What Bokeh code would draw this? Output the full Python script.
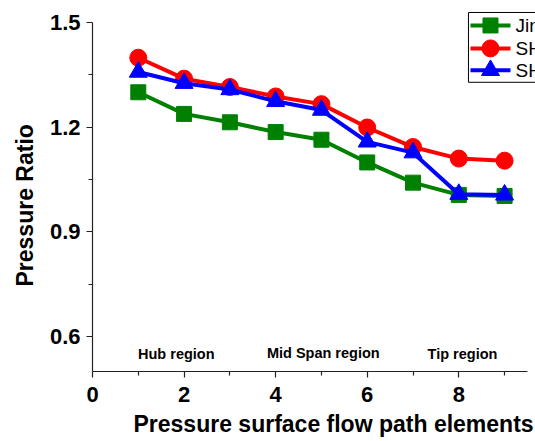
from bokeh.plotting import figure
from bokeh.models import FixedTicker, Range1d, Label, Title
from bokeh.core.properties import value
from bokeh.embed import file_html
from bokeh.resources import INLINE

# Flow path element index along the pressure surface
elements = [1, 2, 3, 4, 5, 6, 7, 8, 9]

# Pressure ratio per element for each case
jin_ratio = [1.300, 1.238, 1.214, 1.186, 1.164, 1.099, 1.041, 1.006, 1.003]
sh_a_ratio = [1.399, 1.339, 1.315, 1.288, 1.266, 1.199, 1.143, 1.110, 1.104]
sh_b_ratio = [1.358, 1.326, 1.308, 1.274, 1.249, 1.158, 1.127, 1.008, 1.006]

series_names = ["Jin et al.", "SHS-1", "SHS-2"]

x_major = [0, 2, 4, 6, 8]
x_minor = [1, 3, 5, 7, 9]
y_major = [0.6, 0.9, 1.2, 1.5]
y_minor = [0.75, 1.05, 1.35]

# Span regions annotated along the bottom of the plot
region_names = ["Hub region", "Mid Span region", "Tip region"]
region_x = [1.83, 5.04, 8.08]
region_y = [0.549, 0.554, 0.551]

FONT = "Liberation Sans"

# The frame runs to the right/top edges so the legend box can spill past
# the axes; the axes themselves are bounded to the data extent.
p = figure(width=535, height=441, output_backend="svg", toolbar_location=None,
           x_range=Range1d(0, 9.675), y_range=Range1d(0.5, 1.5629),
           min_border_left=92, min_border_right=0, min_border_top=0,
           min_border_bottom=69)
p.outline_line_color = None
p.xgrid.grid_line_color = None
p.ygrid.grid_line_color = None
p.background_fill_color = "white"
p.border_fill_color = "white"

for ax in (p.xaxis[0], p.yaxis[0]):
    ax.axis_line_color = "#222222"
    ax.axis_line_width = 1.2
    ax.major_tick_line_color = "#222222"
    ax.minor_tick_line_color = "#222222"
    ax.major_tick_line_width = 1.2
    ax.minor_tick_line_width = 1.2
    ax.major_tick_in = 0
    ax.major_tick_out = 6
    ax.minor_tick_in = 0
    ax.minor_tick_out = 4
    ax.major_label_text_font = FONT
    ax.major_label_text_font_style = "bold"
    ax.major_label_text_font_size = "22px"
    ax.major_label_text_color = "black"

p.xaxis[0].ticker = FixedTicker(ticks=x_major, minor_ticks=x_minor)
p.yaxis[0].ticker = FixedTicker(ticks=y_major, minor_ticks=y_minor)
p.xaxis[0].bounds = (0, 9.5)
p.yaxis[0].bounds = (0.5, 1.5)
p.xaxis[0].major_label_standoff = 9
p.yaxis[0].major_label_standoff = 6

# Axis titles as panel titles so they can be offset along the axes
p.add_layout(Title(text="Pressure surface flow path elements", align="left",
                   offset=41, text_font=FONT, text_font_style="bold",
                   text_font_size="23px", text_color="black", standoff=9),
             "below")
p.add_layout(Title(text="Pressure Ratio", align="left", offset=85,
                   vertical_align="top",
                   text_font=FONT, text_font_style="bold",
                   text_font_size="23px", text_color="black", standoff=14),
             "left")

for name, rx, ry in zip(region_names, region_x, region_y):
    p.add_layout(Label(x=rx, y=ry, text=name, text_font=FONT,
                       text_font_style="bold", text_font_size="14.5px",
                       text_align="center", text_baseline="middle",
                       text_color="black"))

styles = [
    (jin_ratio, "#008000", "square", 15),
    (sh_a_ratio, "#FF0000", "circle", 17),
    (sh_b_ratio, "#0000FF", "triangle", 18),
]

for vals, color, marker, size in styles:
    p.line(elements, vals, line_color=color, line_width=4)
    p.scatter(elements, vals, marker=marker, size=size,
              fill_color=color, line_color=color)

# Legend box in the top-right corner (drawn by hand so the sample markers
# keep the same size as the plotted ones)
p.quad(left=8.211, right=9.9, top=1.5286, bottom=1.3286,
       fill_color="white", line_color="black", line_width=1)
row_y = [1.4914, 1.4257, 1.3629]
for name, ry, (vals, color, marker, size) in zip(series_names, row_y, styles):
    p.line([8.255, 9.129], [ry, ry], line_color=color, line_width=4)
    p.scatter([8.692], [ry], marker=marker, size=size,
              fill_color=color, line_color=color)
    p.text([9.238], [ry], text=[name], text_font=value(FONT),
           text_font_size="19px", text_baseline="middle", text_align="left",
           text_color="black")

open("out.html", "w").write(file_html(p, INLINE))
